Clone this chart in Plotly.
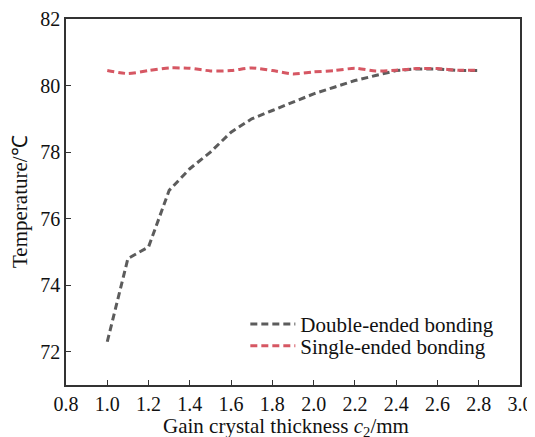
import plotly.graph_objects as go

thickness = [1.0, 1.1, 1.2, 1.3, 1.4, 1.5, 1.6, 1.7, 1.8, 1.9, 2.0, 2.1, 2.2, 2.3, 2.4, 2.5, 2.6, 2.7, 2.8]
double_ended = [72.3, 74.8, 75.15, 76.85, 77.5, 78.0, 78.6, 79.0, 79.25, 79.5, 79.75, 79.95, 80.15, 80.3, 80.45, 80.5, 80.5, 80.45, 80.45]
single_ended = [80.45, 80.36, 80.45, 80.53, 80.52, 80.44, 80.45, 80.53, 80.45, 80.35, 80.41, 80.45, 80.52, 80.44, 80.46, 80.51, 80.51, 80.46, 80.46]

x_ticks = [0.8, 1.0, 1.2, 1.4, 1.6, 1.8, 2.0, 2.2, 2.4, 2.6, 2.8, 3.0]
y_ticks = [72, 74, 76, 78, 80, 82]

x_title = "Gain crystal thickness <i>c</i><sub>2</sub>/mm"
y_title = "Temperature/℃"

FONT = "Liberation Serif, Times New Roman, serif"

fig = go.Figure()
fig.add_trace(go.Scatter(
    x=thickness, y=double_ended, mode="lines", name="Double-ended bonding",
    line=dict(color="#5c5c5c", width=3, dash="7px,4px"), legend="legend",
))
fig.add_trace(go.Scatter(
    x=thickness, y=single_ended, mode="lines", name="Single-ended bonding",
    line=dict(color="#d65763", width=3, dash="7px,4px", shape="spline", smoothing=0.6),
    legend="legend2",
))

leg_common = dict(
    xanchor="left", yanchor="middle", bgcolor="rgba(0,0,0,0)",
    font=dict(family=FONT, size=21, color="#111"), itemwidth=45,
)

# the page body adds an 8px offset, so the figure is 8px smaller on each side
fig.update_layout(
    width=527, height=429,
    margin=dict(l=58, r=15, t=11, b=52, autoexpand=False),
    paper_bgcolor="white", plot_bgcolor="white",
    font=dict(family=FONT, size=20, color="#111"),
    showlegend=True,
    legend=dict(x=0.395, y=0.166, **leg_common),
    legend2=dict(x=0.395, y=0.106, **leg_common),
    annotations=[
        dict(text=x_title, xref="paper", yref="paper", x=0.485, y=0,
             xanchor="center", yanchor="middle", yshift=-42, showarrow=False,
             font=dict(family=FONT, size=21, color="#111")),
        dict(text=y_title, xref="paper", yref="paper", x=0, y=0.5,
             xanchor="center", yanchor="middle", xshift=-46, textangle=-90,
             showarrow=False, font=dict(family=FONT, size=21, color="#111")),
    ],
)
fig.update_xaxes(
    range=[0.8, 3.0], tickvals=x_ticks, ticktext=[f"{v:.1f}" for v in x_ticks],
    tickfont=dict(family=FONT, size=20), automargin=False,
    showline=True, linecolor="#333", linewidth=1.5, mirror=True,
    ticks="inside", ticklen=5, tickcolor="#333",
    showgrid=False, zeroline=False,
)
fig.update_yaxes(
    range=[71.0, 82.0], tickvals=y_ticks,
    tickfont=dict(family=FONT, size=20), automargin=False,
    showline=True, linecolor="#333", linewidth=1.5, mirror=True,
    ticks="inside", ticklen=5, tickcolor="#333",
    showgrid=False, zeroline=False,
)

fig.write_html("out.html")
